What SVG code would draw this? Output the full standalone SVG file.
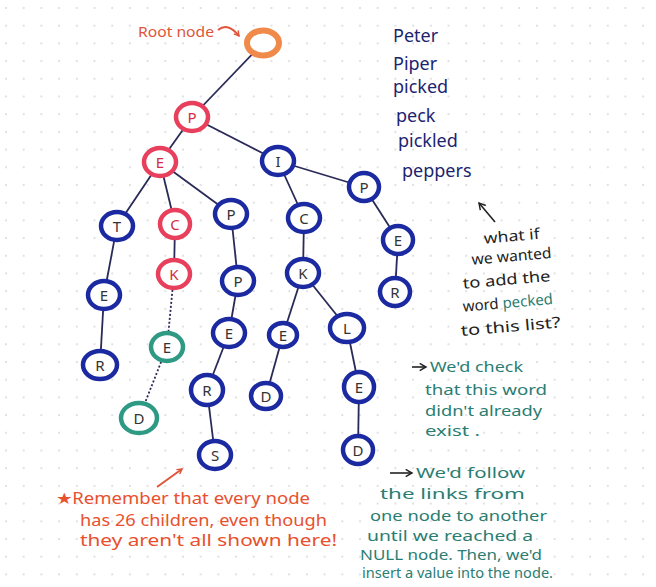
<svg xmlns="http://www.w3.org/2000/svg" width="656" height="587" viewBox="0 0 656 587">
<defs>
<pattern id="dots" x="4" y="6" width="17.7" height="17.7" patternUnits="userSpaceOnUse">
<circle cx="2" cy="2" r="0.9" fill="#d2d2d2"/>
</pattern>
<marker id="arrR" viewBox="0 0 10 10" refX="8" refY="5" markerWidth="7" markerHeight="7" orient="auto" markerUnits="userSpaceOnUse">
<path d="M1,1 L8,5 L1,9" fill="none" stroke="#e0553a" stroke-width="2"/>
</marker>
<marker id="arrK" viewBox="0 0 10 10" refX="8" refY="5" markerWidth="9" markerHeight="9" orient="auto" markerUnits="userSpaceOnUse">
<path d="M1,1 L8,5 L1,9" fill="none" stroke="#222" stroke-width="1.6"/>
</marker>
<style>
.n{fill:#fff;stroke-width:4.5}
.b{stroke:#1b2aa0}
.p{stroke:#e8405c}
.g{stroke:#2e9a84}
.l{font-family:"Noto Sans",sans-serif;font-size:15px;text-anchor:middle;dominant-baseline:central;fill:#333}
.lp{fill:#d42c44}
.e{stroke:#2a2a58;stroke-width:1.8;fill:none}
.d{stroke:#2a2a58;stroke-width:1.8;stroke-dasharray:2 2;fill:none}
.w{font-family:"Noto Sans",sans-serif;font-size:18px;fill:#1c2470}
.a{font-family:"Noto Sans",sans-serif;font-size:15px;fill:#222}
.t{font-family:"Noto Sans",sans-serif;font-size:15px;fill:#2a7d72}
.r{font-family:"Noto Sans",sans-serif;font-size:16px;fill:#e8502e}
</style>
</defs>
<rect width="656" height="587" fill="#fff"/>
<rect width="656" height="587" fill="url(#dots)"/>

<g id="connectors">
<line class="e" x1="263" y1="43" x2="192" y2="117"/>
<line class="e" x1="192" y1="117" x2="160" y2="162"/>
<line class="e" x1="192" y1="117" x2="278" y2="161"/>
<line class="e" x1="160" y1="162" x2="117" y2="226"/>
<line class="e" x1="160" y1="162" x2="175" y2="224"/>
<line class="e" x1="160" y1="162" x2="231" y2="214"/>
<line class="e" x1="278" y1="161" x2="304" y2="218"/>
<line class="e" x1="278" y1="161" x2="364" y2="187"/>
<line class="e" x1="117" y1="226" x2="104" y2="295"/>
<line class="e" x1="104" y1="295" x2="100" y2="365"/>
<line class="e" x1="175" y1="224" x2="174" y2="274"/>
<line class="d" x1="174" y1="274" x2="167" y2="347"/>
<line class="d" x1="167" y1="347" x2="139" y2="418"/>
<line class="e" x1="231" y1="214" x2="238" y2="281"/>
<line class="e" x1="238" y1="281" x2="229" y2="333"/>
<line class="e" x1="229" y1="333" x2="207" y2="390"/>
<line class="e" x1="207" y1="390" x2="215" y2="455"/>
<line class="e" x1="304" y1="218" x2="303" y2="273"/>
<line class="e" x1="303" y1="273" x2="283" y2="335"/>
<line class="e" x1="303" y1="273" x2="347" y2="328"/>
<line class="e" x1="283" y1="335" x2="266" y2="396"/>
<line class="e" x1="347" y1="328" x2="359" y2="387"/>
<line class="e" x1="359" y1="387" x2="358" y2="450"/>
<line class="e" x1="364" y1="187" x2="398" y2="240"/>
<line class="e" x1="398" y1="240" x2="395" y2="292"/>
</g>

<g id="node-root"><ellipse cx="263" cy="43" rx="16" ry="12.5" fill="#fff" stroke="#f08a4a" stroke-width="6"/></g>
<g id="node-P1"><ellipse class="n p" cx="192" cy="117" rx="16" ry="14"/><text class="l lp" x="192" y="117">P</text></g>
<g id="node-E1"><ellipse class="n p" cx="160" cy="162" rx="16" ry="14"/><text class="l lp" x="160" y="162">E</text></g>
<g id="node-I"><ellipse class="n b" cx="278" cy="161" rx="16" ry="14"/><text class="l" x="278" y="161">I</text></g>
<g id="node-P3"><ellipse class="n b" cx="364" cy="187" rx="15" ry="14"/><text class="l" x="364" y="187">P</text></g>
<g id="node-T"><ellipse class="n b" cx="117" cy="226" rx="16" ry="14"/><text class="l" x="117" y="226">T</text></g>
<g id="node-C1"><ellipse class="n p" cx="175" cy="224" rx="15" ry="14"/><text class="l lp" x="175" y="224">C</text></g>
<g id="node-P2"><ellipse class="n b" cx="231" cy="214" rx="16" ry="14"/><text class="l" x="231" y="214">P</text></g>
<g id="node-C2"><ellipse class="n b" cx="304" cy="218" rx="16" ry="14"/><text class="l" x="304" y="218">C</text></g>
<g id="node-E6"><ellipse class="n b" cx="398" cy="240" rx="15" ry="14"/><text class="l" x="398" y="240">E</text></g>
<g id="node-K1"><ellipse class="n p" cx="174" cy="274" rx="16" ry="14"/><text class="l lp" x="174" y="274">K</text></g>
<g id="node-P4"><ellipse class="n b" cx="238" cy="281" rx="16" ry="14"/><text class="l" x="238" y="281">P</text></g>
<g id="node-K2"><ellipse class="n b" cx="303" cy="273" rx="16" ry="14"/><text class="l" x="303" y="273">K</text></g>
<g id="node-R3"><ellipse class="n b" cx="395" cy="292" rx="15" ry="14"/><text class="l" x="395" y="292">R</text></g>
<g id="node-E2"><ellipse class="n b" cx="104" cy="295" rx="16" ry="14"/><text class="l" x="104" y="295">E</text></g>
<g id="node-Eg"><ellipse class="n g" cx="167" cy="347" rx="16" ry="14"/><text class="l" x="167" y="347">E</text></g>
<g id="node-E3"><ellipse class="n b" cx="229" cy="333" rx="16" ry="14"/><text class="l" x="229" y="333">E</text></g>
<g id="node-E4"><ellipse class="n b" cx="283" cy="335" rx="14" ry="12"/><text class="l" x="283" y="335">E</text></g>
<g id="node-L"><ellipse class="n b" cx="347" cy="328" rx="17" ry="14"/><text class="l" x="347" y="328">L</text></g>
<g id="node-R1"><ellipse class="n b" cx="100" cy="365" rx="17" ry="14"/><text class="l" x="100" y="365">R</text></g>
<g id="node-R2"><ellipse class="n b" cx="207" cy="390" rx="16" ry="15"/><text class="l" x="207" y="390">R</text></g>
<g id="node-D1"><ellipse class="n b" cx="266" cy="396" rx="15" ry="13"/><text class="l" x="266" y="396">D</text></g>
<g id="node-E5"><ellipse class="n b" cx="359" cy="387" rx="15" ry="15"/><text class="l" x="359" y="387">E</text></g>
<g id="node-Dg"><ellipse class="n g" cx="139" cy="418" rx="18" ry="15"/><text class="l" x="139" y="418">D</text></g>
<g id="node-S"><ellipse class="n b" cx="215" cy="455" rx="16" ry="14"/><text class="l" x="215" y="455">S</text></g>
<g id="node-D2"><ellipse class="n b" cx="358" cy="450" rx="15" ry="14"/><text class="l" x="358" y="450">D</text></g>

<g id="root-label">
<text x="138" y="37" font-family="Noto Sans, sans-serif" font-size="15" fill="#e0553a" textLength="76" lengthAdjust="spacingAndGlyphs">Root node</text>
<path d="M218,30 Q228,22 239,36" fill="none" stroke="#e0553a" stroke-width="2" marker-end="url(#arrR)"/>
</g>

<g id="word-list">
<text class="w" x="393" y="42">Peter</text>
<text class="w" x="393" y="70">Piper</text>
<text class="w" x="393" y="93">picked</text>
<text class="w" x="396" y="122" fill="#d8283c">peck</text>
<text class="w" x="398" y="147">pickled</text>
<text class="w" x="402" y="177">peppers</text>
</g>

<g id="question">
<line x1="495" y1="222" x2="479" y2="203" stroke="#222" stroke-width="1.6" marker-end="url(#arrK)"/>
<g transform="rotate(-5 505 285)">
<text class="a" x="488" y="242" textLength="56" lengthAdjust="spacingAndGlyphs">what if</text>
<text class="a" x="474" y="262" textLength="80" lengthAdjust="spacingAndGlyphs">we wanted</text>
<text class="a" x="463" y="285" textLength="88" lengthAdjust="spacingAndGlyphs">to add the</text>
<text class="a" x="461" y="308">word <tspan fill="#2a7d72">pecked</tspan></text>
<text class="a" x="457" y="332" textLength="100" lengthAdjust="spacingAndGlyphs">to this list?</text>
</g>
</g>

<g id="check-note">
<path d="M412,367 L426,367" stroke="#222" stroke-width="1.6" marker-end="url(#arrK)"/>
<text class="t" x="430" y="372" textLength="93" lengthAdjust="spacingAndGlyphs">We'd check</text>
<text class="t" x="425" y="395" textLength="122" lengthAdjust="spacingAndGlyphs">that this word</text>
<text class="t" x="425" y="416" textLength="117" lengthAdjust="spacingAndGlyphs">didn't already</text>
<text class="t" x="425" y="436" textLength="55" lengthAdjust="spacingAndGlyphs">exist .</text>
</g>

<g id="follow-note">
<path d="M390,473 L412,473" stroke="#222" stroke-width="1.6" marker-end="url(#arrK)"/>
<text class="t" x="416" y="478" textLength="109" lengthAdjust="spacingAndGlyphs">We'd follow</text>
<text class="t" x="380" y="499" textLength="145" lengthAdjust="spacingAndGlyphs">the links from</text>
<text class="t" x="370" y="521" textLength="177" lengthAdjust="spacingAndGlyphs">one node to another</text>
<text class="t" x="367" y="541" textLength="166" lengthAdjust="spacingAndGlyphs">until we reached a</text>
<text class="t" x="360" y="560" font-size="13" textLength="182" lengthAdjust="spacingAndGlyphs">NULL node. Then, we'd</text>
<text class="t" x="362" y="578" font-size="13" textLength="191" lengthAdjust="spacingAndGlyphs">insert a value into the node.</text>
</g>

<g id="remember-note">
<line x1="157" y1="487" x2="182" y2="469" stroke="#e0553a" stroke-width="2" marker-end="url(#arrR)"/>
<text class="r" x="56" y="504" textLength="254" lengthAdjust="spacingAndGlyphs">★Remember that every node</text>
<text class="r" x="80" y="526" textLength="247" lengthAdjust="spacingAndGlyphs">has 26 children, even though</text>
<text class="r" x="80" y="546" textLength="257" lengthAdjust="spacingAndGlyphs">they aren't all shown here!</text>
</g>
</svg>
